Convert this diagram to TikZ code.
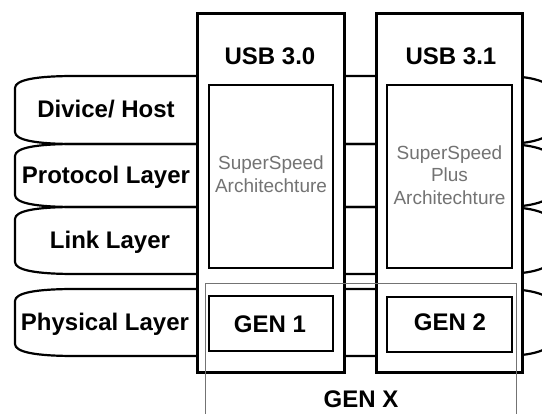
\documentclass[tikz,border=0pt]{standalone}
\usepackage{fontspec}
\setmainfont{Liberation Sans}
\tikzset{
  band/.style={draw=black, line width=2.2pt},
  usbbox/.style={draw=black, line width=3pt, fill=white, inner sep=0pt},
  innerbox/.style={draw=black, line width=2.6pt, fill=white, inner sep=0pt},
  genx/.style={draw=black!55, line width=0.9pt},
  lbl/.style={font=\fontsize{24}{28}\selectfont\bfseries, inner sep=0pt, anchor=base},
  archtext/.style={font=\fontsize{19}{22.5}\selectfont, text=black!55, align=center, inner sep=0pt},
}
% one layer band: scroll-like left end, rounded right end
\newcommand\layerband[2]{%
  \draw[band] (500,#1) -- (75,#1)
    .. controls (35,#1) and (15,#1+4) .. (15,#1+12)
    -- (15,#2-12)
    .. controls (15,#2-4) and (35,#2) .. (75,#2)
    -- (500,#2)
    .. controls (545,#2) and (560,#2-10) .. (560,{(#1+#2)/2})
    .. controls (560,#1+10) and (545,#1) .. (500,#1) -- cycle;}
\begin{document}
\begin{tikzpicture}[x=1pt,y=-1pt]
  \useasboundingbox (0,0) rectangle (542,414);
  \clip (0,0) rectangle (542,414);

  % protocol layers
  \layerband{76}{144}
  \layerband{144}{207}
  \layerband{207}{274}
  \layerband{289}{356}

  % USB generations
  \node[usbbox, minimum width=147pt, minimum height=359pt] (usbA) at (270.5,193.5) {};
  \node[usbbox, minimum width=146pt, minimum height=359pt] (usbB) at (449,193.5) {};

  % GEN X frame
  \draw[genx] (205,430) -- (205,283) -- (516,283) -- (516,430);

  % architecture and gen boxes
  \node[innerbox, minimum width=124pt, minimum height=183pt] (archA) at (271,176.5) {};
  \node[innerbox, minimum width=125pt, minimum height=183pt] (archB) at (449.5,176.5) {};
  \node[innerbox, minimum width=124pt, minimum height=55pt] (genA) at (271,323.5) {};
  \node[innerbox, minimum width=125pt, minimum height=55pt] (genB) at (449.5,324.5) {};

  % labels
  \node[lbl] (lDevice) at (106,118) {Divice/ Host};
  \node[lbl] (lProtocol) at (106,184) {Protocol Layer};
  \node[lbl] (lLink) at (110,249) {Link Layer};
  \node[lbl] (lPhysical) at (105,331) {Physical Layer};

  \node[lbl] (tUsbA) at (270,65) {USB 3.0};
  \node[lbl] (tUsbB) at (451,65) {USB 3.1};

  \node[archtext] (tArchA) at (271,174) {SuperSpeed\\Architechture};
  \node[archtext] (tArchB) at (449.5,175) {SuperSpeed\\Plus\\Architechture};

  \node[lbl] (tGenA) at (270,333) {GEN 1};
  \node[lbl] (tGenB) at (450,331) {GEN 2};
  \node[lbl] (tGenX) at (361,408) {GEN X};
\end{tikzpicture}
\end{document}
